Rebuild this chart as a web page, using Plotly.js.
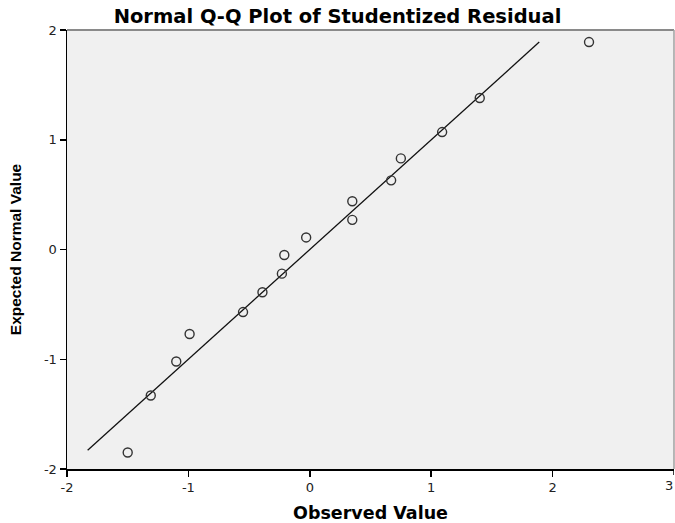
<!DOCTYPE html>
<html>
<head>
<meta charset="utf-8">
<script src="https://cdn.plot.ly/plotly-3.0.1.min.js"></script>
<style>html,body{margin:0;padding:0;background:#fff;}#chart{width:675px;height:523px;}</style>
</head>
<body>
<div id="chart"></div>
<script>
// Observed (studentized residual) values
var observed = [-1.50, -1.31, -1.10, -0.99, -0.55, -0.39, -0.23, -0.21, -0.03, 0.35, 0.35, 0.67, 0.75, 1.09, 1.40, 2.30];
// Expected normal values
var expected = [-1.85, -1.33, -1.02, -0.77, -0.57, -0.39, -0.22, -0.05, 0.11, 0.44, 0.27, 0.63, 0.83, 1.07, 1.38, 1.89];
// Reference line endpoints (y = x)
var lineX = [-1.83, 1.89];
var lineY = [-1.83, 1.89];
var xTicks = [-2, -1, 0, 1, 2, 3];
var yTicks = [-2, -1, 0, 1, 2];

var traces = [
  {x: lineX, y: lineY, mode: 'lines', type: 'scatter',
   line: {color: '#111', width: 1.3}, hoverinfo: 'skip', showlegend: false},
  {x: observed, y: expected, mode: 'markers', type: 'scatter',
   marker: {symbol: 'circle-open', size: 9, color: '#333', line: {width: 1.4, color: '#333'}},
   showlegend: false}
];

var tickFont = {family: 'DejaVu Sans', size: 13, color: '#222'};

var layout = {
  width: 675, height: 523,
  margin: {l: 67, r: 1, t: 30, b: 54},
  paper_bgcolor: '#ffffff',
  plot_bgcolor: '#f0f0f0',
  title: {text: 'Normal Q-Q Plot of Studentized Residual',
          font: {family: 'DejaVu Sans', size: 19.5, color: '#000', weight: 'bold'},
          x: 0.5, xanchor: 'center', y: 0.97, yanchor: 'middle'},
  xaxis: {range: [-2, 3], tickvals: xTicks.slice(0, 5), ticktext: xTicks.slice(0, 5).map(String),
          showgrid: false, zeroline: false, showline: true, linecolor: '#000', linewidth: 1.5,
          ticks: 'outside', ticklen: 6, tickcolor: '#000', tickwidth: 1.5,
          tickfont: tickFont,
          title: {text: 'Observed Value', standoff: 18,
                  font: {family: 'DejaVu Sans', size: 17.5, color: '#000', weight: 'bold'}},
          fixedrange: true},
  yaxis: {range: [-2, 2], tickvals: yTicks, ticktext: yTicks.map(String),
          showgrid: false, zeroline: false, showline: true, linecolor: '#000', linewidth: 1.5,
          ticks: 'outside', ticklen: 6, tickcolor: '#000', tickwidth: 1.5,
          tickfont: tickFont,
          title: {text: 'Expected Normal Value', standoff: 18,
                  font: {family: 'Liberation Sans', size: 15.5, color: '#000', weight: 'bold'}},
          fixedrange: true},
  annotations: [
    {xref: 'x', yref: 'paper', x: xTicks[5], y: 0, yshift: -7, xshift: 1, text: String(xTicks[5]),
     showarrow: false, xanchor: 'right', yanchor: 'top', font: tickFont}
  ],
  shapes: [
    {type: 'line', xref: 'paper', yref: 'paper', x0: 0, x1: 1, y0: 1, y1: 1,
     line: {color: '#8a8a8a', width: 2}},
    {type: 'line', xref: 'paper', yref: 'paper', x0: 1, x1: 1, y0: 0, y1: 1,
     line: {color: '#a0a0a0', width: 1.5}},
    {type: 'line', xref: 'x', yref: 'paper', x0: xTicks[5], x1: xTicks[5], y0: -6, y1: 0,
     ysizemode: 'pixel', yanchor: 0, line: {color: '#000', width: 1.5}}
  ]
};

Plotly.newPlot('chart', traces, layout, {displayModeBar: false, staticPlot: true});
</script>
</body>
</html>
